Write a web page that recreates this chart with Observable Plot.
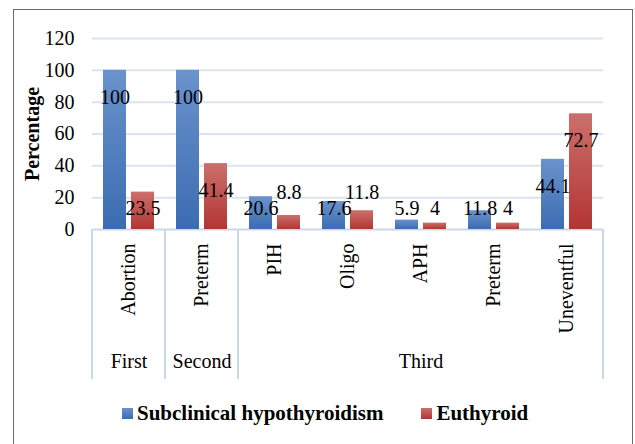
<!DOCTYPE html>
<html>
<head>
<meta charset="utf-8">
<script src="https://cdn.jsdelivr.net/npm/d3@7"></script>
<script src="https://cdn.jsdelivr.net/npm/@observablehq/plot@0.6"></script>
<style>
  html, body { margin: 0; padding: 0; background: #fff; }
  #wrap { position: relative; width: 635px; height: 444px; overflow: hidden; font-family: "Liberation Serif", "Times New Roman", serif; }
  #border { position: absolute; left: 13px; top: 9px; width: 620px; height: 460px; border: 1px solid #6b6b6b; box-sizing: border-box; pointer-events: none; }
  #chart { position: absolute; left: 0; top: 0; }
  #legend { position: absolute; top: 401px; left: 122px; display: flex; align-items: center; font-weight: bold; font-size: 21px; color: #000; white-space: nowrap; }
  #legend .sw { width: 11px; height: 11px; margin-right: 4px; }
  #legend .item { display: flex; align-items: center; margin-right: 38px; }
</style>
</head>
<body>
<div id="wrap">
  <div id="chart"></div>
  <div id="legend"></div>
  <div id="border"></div>
</div>
<script>
// ---- data ----
const categories = ["Abortion", "Preterm", "PIH", "Oligo", "APH", "Preterm", "Uneventful"];
const groups = ["First", "Second", "Third", "Third", "Third", "Third", "Third"];
const series = ["Subclinical hypothyroidism", "Euthyroid"];
const subclinical = [100, 100, 20.6, 17.6, 5.9, 11.8, 44.1];
const euthyroid = [23.5, 41.4, 8.8, 11.8, 4, 4, 72.7];
const yTicks = [0, 20, 40, 60, 80, 100, 120];

// ---- derived table ----
const keys = categories.map((c, i) => groups[i] + " · " + c);
const seriesValues = [subclinical, euthyroid];
const rows = [];
keys.forEach((k, i) => {
  series.forEach((s, j) => rows.push({key: k, series: s, value: seriesValues[j][i]}));
});

// data label placement (Excel-like: inside near the top, pushed up if labels collide)
const fontPx = 20;
const step = 28.5;
const labels = [];
keys.forEach((k, i) => {
  const vb = subclinical[i], vr = euthyroid[i];
  const tb = String(vb), tr = String(vr);
  let yb = Math.max(vb - 17, 13);
  let yr = Math.max(vr - 17, 13);
  const halfW = (tb.length + tr.length) * fontPx * 0.25;
  if (Math.abs(yb - yr) < 8 && halfW > step) yr = yb + 10;
  labels.push({key: k, series: series[0], y: yb, text: tb});
  labels.push({key: k, series: series[1], y: yr, text: tr});
});

// group label in the middle category of each group
const groupNames = [...new Set(groups)];
const groupLabels = groupNames.map(g => {
  const idx = groups.map((gg, i) => gg === g ? i : -1).filter(i => i >= 0);
  return {key: keys[idx[Math.floor(idx.length / 2)]], text: g};
});

const gridColor = "#d9e4f2";
const axisColor = "#c9d8ec";

const plot = Plot.plot({
  width: 635,
  height: 390,
  marginTop: 38,
  marginBottom: 161,
  marginLeft: 90,
  marginRight: 30,
  style: {fontFamily: "Liberation Serif, Times New Roman, serif", fontSize: "20px", color: "#000", background: "transparent"},
  fx: {domain: keys, padding: 0, axis: null},
  x: {domain: series, paddingInner: 0.175, paddingOuter: 0.378, axis: null},
  y: {domain: [0, 120], ticks: yTicks, tickSize: 0, tickPadding: 18, label: "Percentage", labelArrow: "none", labelAnchor: "center", labelOffset: 68},
  color: {domain: series, range: ["url(#gradBlue)", "url(#gradRed)"]},
  marks: [
    Plot.ruleY(yTicks.filter(t => t > 0), {stroke: gridColor, strokeWidth: 2}),
    Plot.ruleY([0], {stroke: axisColor, strokeWidth: 2}),
    Plot.barY(rows, {fx: "key", x: "series", y: "value", fill: "series"}),
    Plot.text(labels, {fx: "key", x: "series", y: "y", text: "text", fill: "#000", fontSize: 20}),
    Plot.text(keys, {fx: d => d, text: (d, i) => categories[i], frameAnchor: "bottom", rotate: -90, textAnchor: "end", lineAnchor: "middle", dy: 14, fontSize: 20, fill: "#000"}),
    Plot.text(groupLabels, {fx: "key", text: "text", frameAnchor: "bottom", dy: 138, fontSize: 20, fill: "#000"})
  ]
});

const svg = d3.select(plot);
const defs = svg.insert("defs", ":first-child");
function grad(id, top, bottom) {
  const g = defs.append("linearGradient").attr("id", id).attr("x1", 0).attr("y1", 0).attr("x2", 0).attr("y2", 1);
  g.append("stop").attr("offset", "0%").attr("stop-color", top);
  g.append("stop").attr("offset", "100%").attr("stop-color", bottom);
}
grad("gradBlue", "#6b93cc", "#3b6cb2");
grad("gradRed", "#cc6f6c", "#b33533");

svg.selectAll('g[aria-label="y-axis label"] text, g[aria-label="y-axis label"]').attr("font-weight", "bold");

// group dividers on the category axis, from the fx scale
const fx = plot.scale("fx");
const yScale = plot.scale("y");
const y0 = yScale.apply(0);
const divX = [];
groupNames.forEach(g => {
  const first = groups.indexOf(g);
  divX.push(fx.apply(keys[first]));
});
divX.push(fx.apply(keys[keys.length - 1]) + fx.bandwidth);
svg.append("g").attr("aria-label", "category dividers")
  .selectAll("line").data(divX).join("line")
  .attr("x1", d => d).attr("x2", d => d)
  .attr("y1", y0).attr("y2", y0 + 150)
  .attr("stroke", axisColor).attr("stroke-width", 2);

document.getElementById("chart").appendChild(plot);

// legend
const legend = d3.select("#legend");
const legendFills = ["linear-gradient(#6b93cc, #3b6cb2)", "linear-gradient(#cc6f6c, #b33533)"];
series.forEach((s, i) => {
  const item = legend.append("div").attr("class", "item");
  item.append("div").attr("class", "sw").style("background", legendFills[i]);
  item.append("span").text(s);
});
</script>
</body>
</html>
